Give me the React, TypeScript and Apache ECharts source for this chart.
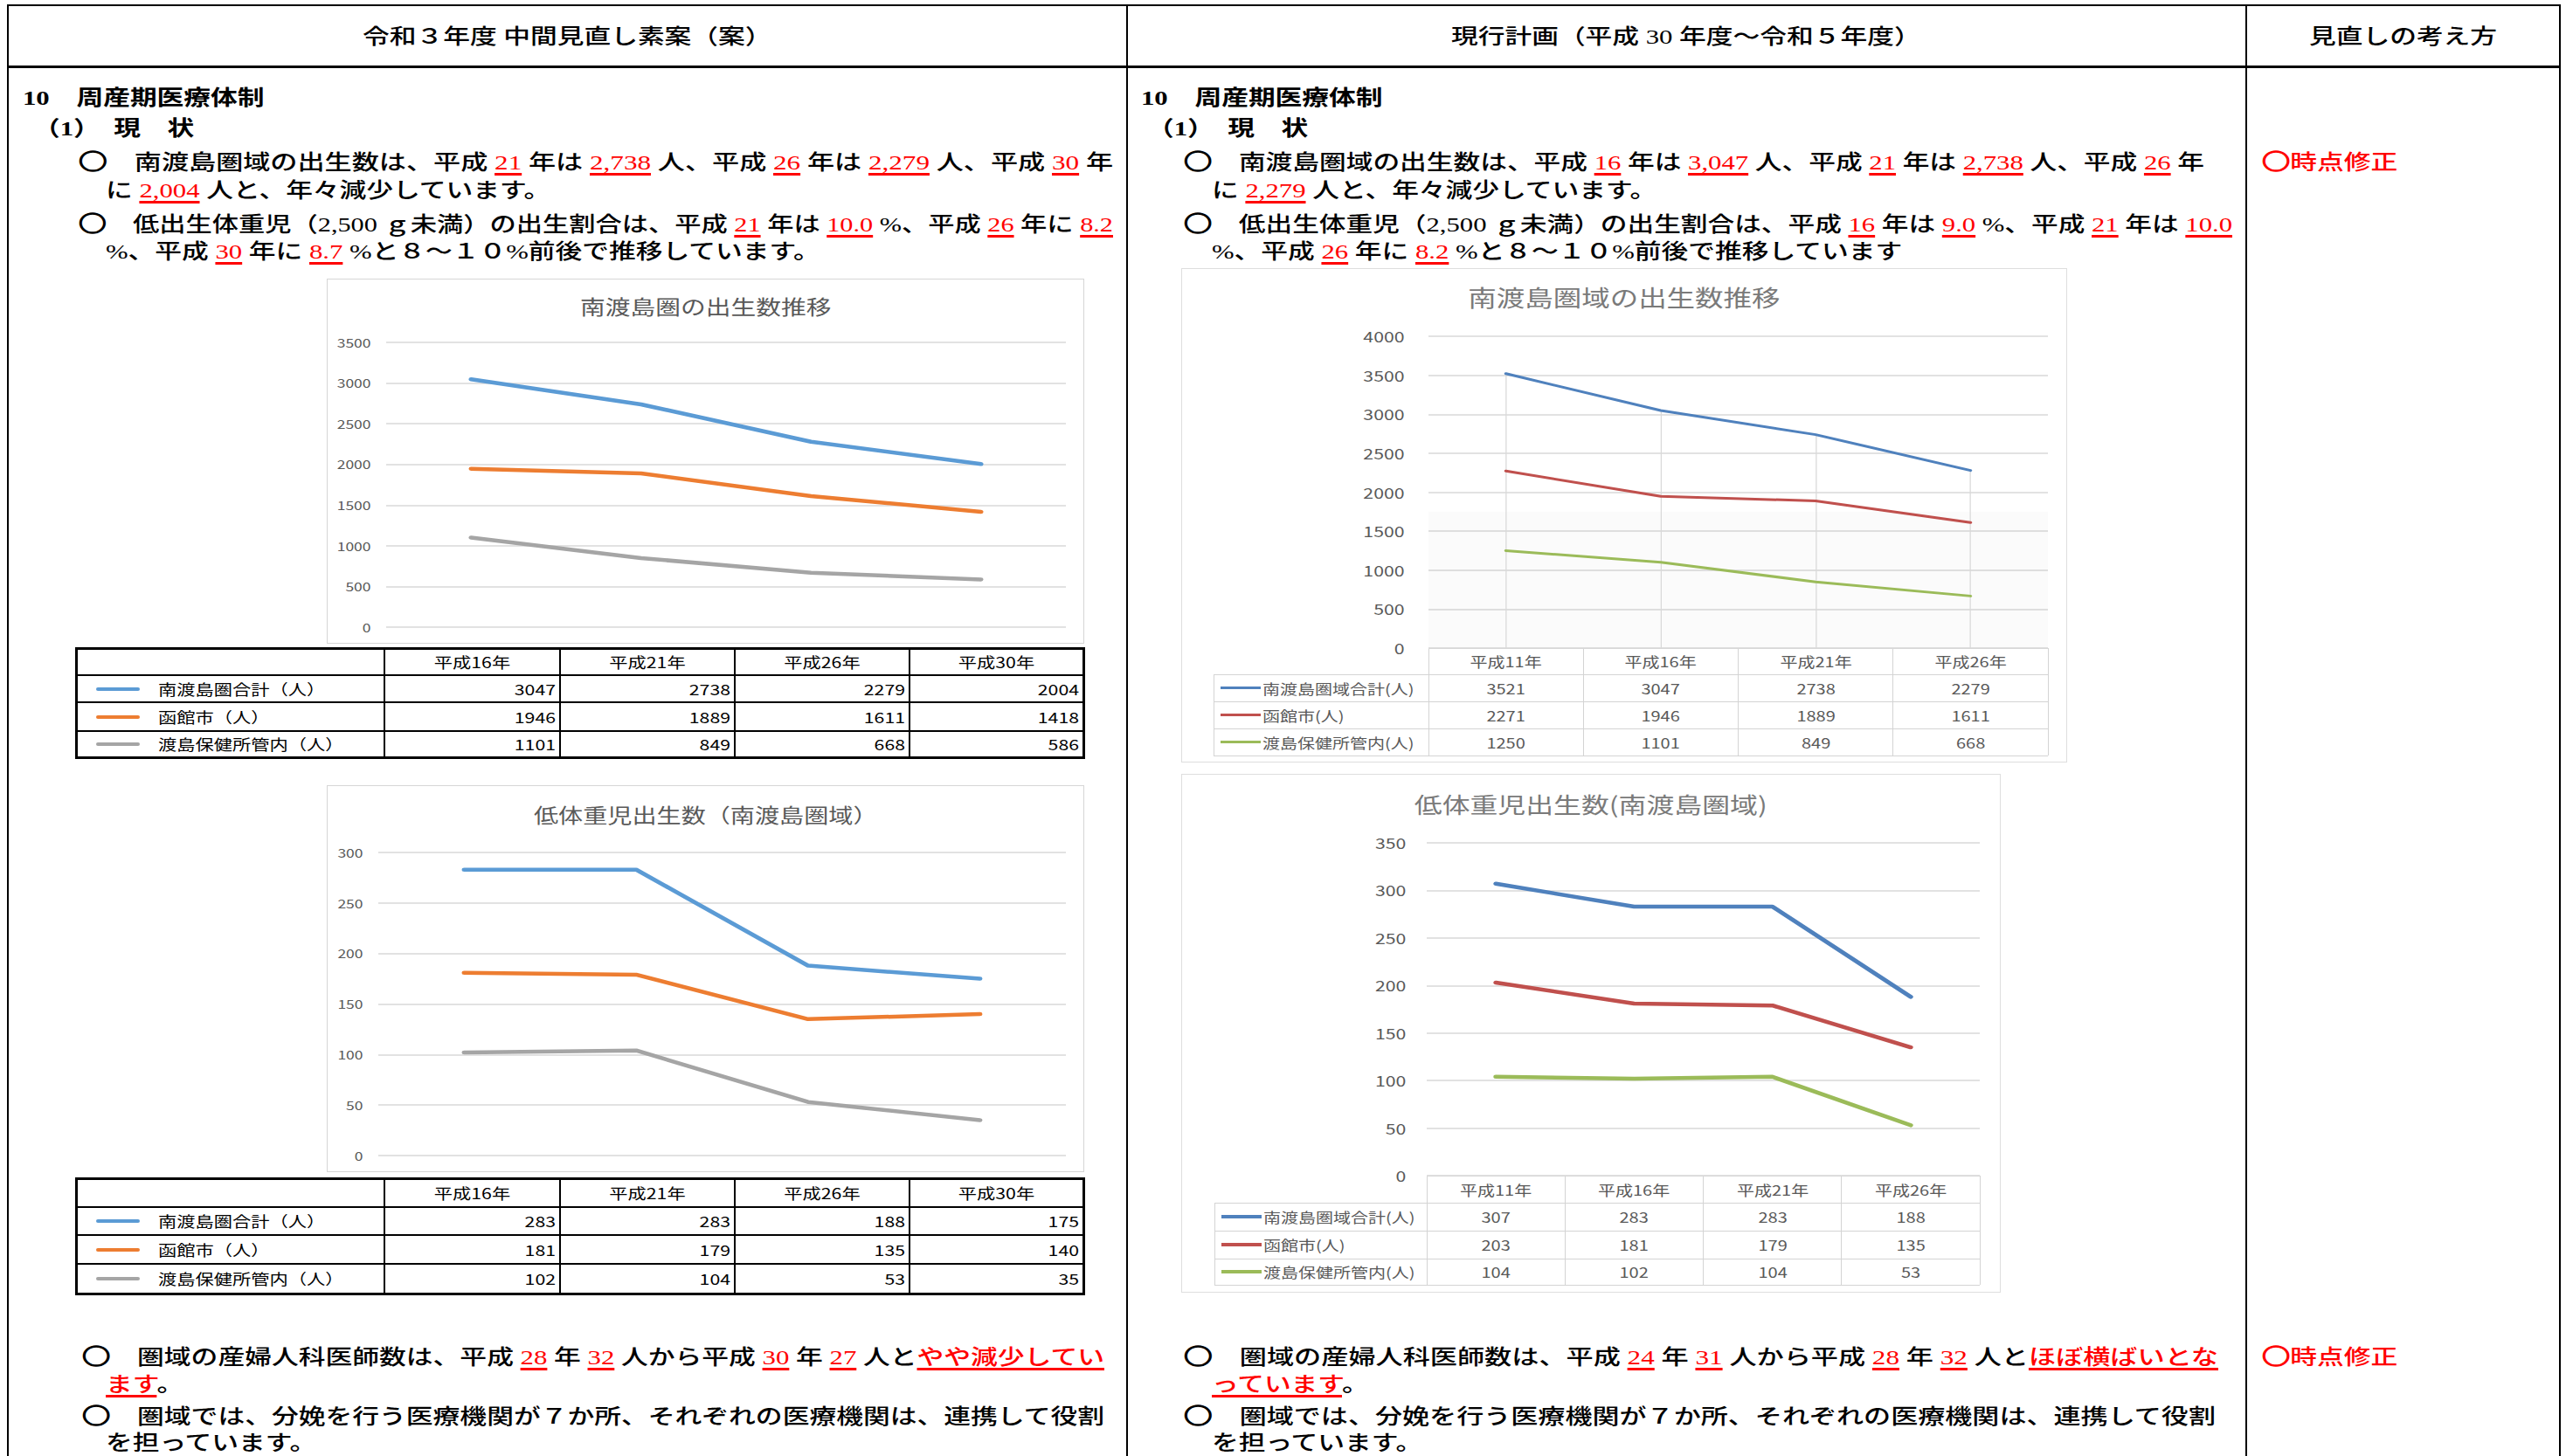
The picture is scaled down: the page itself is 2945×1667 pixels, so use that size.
import React, { useEffect, useLayoutEffect, useRef } from "react";
import * as echarts from "echarts";

// ---------------- data ----------------
const CAT_NEW = ["平成16年", "平成21年", "平成26年", "平成30年"];
const CAT_OLD = ["平成11年", "平成16年", "平成21年", "平成26年"];
const NAMES_NEW = ["南渡島圏合計（人）", "函館市（人）", "渡島保健所管内（人）"];
const NAMES_OLD = ["南渡島圏域合計(人)", "函館市(人)", "渡島保健所管内(人)"];

const BIRTHS_NEW_TOTAL = [3047, 2738, 2279, 2004];
const BIRTHS_NEW_HAKODATE = [1946, 1889, 1611, 1418];
const BIRTHS_NEW_OSHIMA = [1101, 849, 668, 586];

const LBW_NEW_TOTAL = [283, 283, 188, 175];
const LBW_NEW_HAKODATE = [181, 179, 135, 140];
const LBW_NEW_OSHIMA = [102, 104, 53, 35];

const BIRTHS_OLD_TOTAL = [3521, 3047, 2738, 2279];
const BIRTHS_OLD_HAKODATE = [2271, 1946, 1889, 1611];
const BIRTHS_OLD_OSHIMA = [1250, 1101, 849, 668];

const LBW_OLD_TOTAL = [307, 283, 283, 188];
const LBW_OLD_HAKODATE = [203, 181, 179, 135];
const LBW_OLD_OSHIMA = [104, 102, 104, 53];

const TICKS_BIRTHS_NEW = [0, 500, 1000, 1500, 2000, 2500, 3000, 3500];
const TICKS_LBW_NEW = [0, 50, 100, 150, 200, 250, 300];
const TICKS_BIRTHS_OLD = [0, 500, 1000, 1500, 2000, 2500, 3000, 3500, 4000];
const TICKS_LBW_OLD = [0, 50, 100, 150, 200, 250, 300, 350];

// ---------------- styles ----------------
const SD = 1.28; // horizontal stretch of document text
const SC = 1.25; // horizontal stretch of chart images
const JP = "'Noto Sans CJK JP', 'Noto Sans', sans-serif";
const DOC_FONT = "'Liberation Serif', 'Noto Sans CJK JP', serif";
const RED = "#ff0000";
const COLORS_NEW = ["#5b9bd5", "#ed7d31", "#a5a5a5"];
const COLORS_OLD = ["#4f81bd", "#c0504d", "#9bbb59"];

type Seg = string | { t: string; red?: boolean; u?: boolean; circ?: boolean };
const R = (t: string): Seg => ({ t, red: true, u: true });
const O: Seg = { t: "○", circ: true };

function TLine(props: any) {
  const { x, cx, y, w, segs, bold, size = 24, color = "#000" } = props;
  const ref = useRef<HTMLDivElement>(null);
  const lh = Math.round(size * 1.3);
  useLayoutEffect(() => {
    const el = ref.current;
    if (!el) return;
    el.style.transform = "none";
    const nat = el.getBoundingClientRect().width;
    const s = w ? w / nat : SD;
    el.style.transform = `scaleX(${s})`;
    if (cx !== undefined) el.style.left = `${cx - (nat * s) / 2}px`;
    else el.style.left = `${x}px`;
  }, []);
  return (
    <div
      ref={ref}
      style={{
        position: "absolute",
        left: x ?? cx,
        top: y - lh / 2,
        width: "max-content",
        fontSize: size,
        lineHeight: `${lh}px`,
        whiteSpace: "pre",
        fontFamily: DOC_FONT,
        fontWeight: bold ? 700 : 500,
        color,
        transformOrigin: "0 0",
      }}
    >
      {segs.map((s: Seg, i: number) =>
        typeof s === "string" ? (
          <span key={i}>{s}</span>
        ) : (
          <span
            key={i}
            style={{
              color: s.red ? RED : undefined,
              textDecoration: s.u ? "underline" : undefined,
              textDecorationColor: RED,
              textDecorationThickness: "3px",
              textUnderlineOffset: "4px",
              fontFamily: s.circ ? JP : undefined,
              fontWeight: s.circ ? 700 : undefined,
              fontSize: s.circ ? "1.05em" : undefined,
              WebkitTextStroke: s.circ ? "1.3px currentColor" : undefined,
            }}
          >
            {s.t}
          </span>
        )
      )}
    </div>
  );
}

function hl(key: string, x1: number, x2: number, y: number, th: number, color: string) {
  return <div key={key} style={{ position: "absolute", left: x1, top: y - th / 2, width: x2 - x1, height: th, background: color }} />;
}
function vl(key: string, x: number, y1: number, y2: number, th: number, color: string) {
  return <div key={key} style={{ position: "absolute", left: x - th / 2, top: y1, width: th, height: y2 - y1, background: color }} />;
}
function cell(key: string, x0: number, x1: number, yc: number, text: string, align: string, size: number, color: string) {
  const lh = Math.round(size * 1.4);
  const origin = align === "right" ? "100% 50%" : align === "center" ? "50% 50%" : "0 50%";
  return (
    <div
      key={key}
      style={{
        position: "absolute",
        left: x0,
        top: yc - lh / 2,
        width: x1 - x0,
        height: lh,
        lineHeight: `${lh}px`,
        fontSize: size,
        fontFamily: JP,
        color,
        textAlign: align as any,
        whiteSpace: "nowrap",
        transform: `scaleX(${SC})`,
        transformOrigin: origin,
      }}
    >
      {text}
    </div>
  );
}

// ---------------- tables ----------------
const LT_COLS = [87, 440, 641, 841, 1041, 1240];

function newTable(id: string, rows: number[], cats: string[], names: string[], data: number[][], colors: string[]) {
  const cols = LT_COLS;
  const els: any[] = [];
  rows.forEach((y, i) => els.push(hl(`${id}h${i}`, cols[0] - 1.5, cols[cols.length - 1] + 1.5, y, i === 0 || i === rows.length - 1 ? 3 : 2.5, "#000")));
  cols.forEach((x, i) => els.push(vl(`${id}v${i}`, x, rows[0] - 1.5, rows[rows.length - 1] + 1.5, i === 0 || i === cols.length - 1 ? 3 : 2, "#000")));
  cats.forEach((c, j) => els.push(cell(`${id}c${j}`, cols[j + 1], cols[j + 2], (rows[0] + rows[1]) / 2, c, "center", 17, "#000")));
  names.forEach((n, i) => {
    const yc = (rows[i + 1] + rows[i + 2]) / 2;
    els.push(<div key={`${id}l${i}`} style={{ position: "absolute", left: 110, top: yc - 2, width: 50, height: 4, borderRadius: 2, background: colors[i] }} />);
    els.push(cell(`${id}n${i}`, 181, cols[1], yc, n, "left", 17, "#000"));
    data[i].forEach((v, j) => els.push(cell(`${id}d${i}_${j}`, cols[j + 1], cols[j + 2] - 5, yc, String(v), "right", 17, "#000")));
  });
  return els;
}

function oldTable(id: string, legendL: number, gl: number, gr: number, rows: number[], cats: string[], names: string[], data: number[][], colors: string[]) {
  const n = cats.length;
  const cols = cats.map((_, j) => gl + ((gr - gl) * j) / n).concat([gr]);
  const els: any[] = [];
  const G = "#d4d4d4";
  els.push(hl(`${id}h0`, gl, gr, rows[0], 1, G));
  for (let i = 1; i < rows.length; i++) els.push(hl(`${id}h${i}`, legendL, gr, rows[i], 1, G));
  els.push(vl(`${id}vl`, legendL, rows[1], rows[rows.length - 1], 1, G));
  cols.forEach((x, i) => els.push(vl(`${id}v${i}`, x, rows[0], rows[rows.length - 1], 1, G)));
  cats.forEach((c, j) => els.push(cell(`${id}c${j}`, cols[j], cols[j + 1], (rows[0] + rows[1]) / 2, c, "center", 16, "#595959")));
  names.forEach((nm, i) => {
    const yc = (rows[i + 1] + rows[i + 2]) / 2;
    els.push(<div key={`${id}l${i}`} style={{ position: "absolute", left: legendL + 8, top: yc - 1.75, width: 46, height: 3.5, background: colors[i] }} />);
    els.push(cell(`${id}n${i}`, legendL + 56, gl, yc, nm, "left", 16, "#595959"));
    data[i].forEach((v, j) => els.push(cell(`${id}d${i}_${j}`, cols[j], cols[j + 1], yc, String(v), "center", 16, "#595959")));
  });
  return els;
}

// ---------------- charts ----------------
type ChartCfg = {
  key: string;
  frame: number[];
  grid: number[];
  title: string;
  titleSize: number;
  titleColor: string;
  titleY: number;
  ticks: number[];
  cats: string[];
  names: string[];
  data: number[][];
  colors: string[];
  lineWidth: number;
  labelSize: number;
  labelMargin: number;
  dropLines?: boolean;
  shadeTop?: number;
};

function buildOption(c: ChartCfg) {
  const [fl, ft] = c.frame;
  const [gl, gt, gr, gb] = c.grid;
  const ticks = c.ticks;
  const series: any[] = c.data.map((d, i) => ({
    type: "line",
    name: c.names[i],
    data: d,
    symbol: "none",
    showSymbol: false,
    silent: true,
    lineStyle: { color: c.colors[i], width: c.lineWidth, cap: "round", join: "round" },
    itemStyle: { color: c.colors[i] },
    z: 5,
  }));
  if (c.dropLines) {
    series.unshift({
      type: "line",
      data: c.data[0],
      symbol: "none",
      showSymbol: false,
      silent: true,
      lineStyle: { width: 0, opacity: 0 },
      z: 1,
      markLine: {
        silent: true,
        animation: false,
        symbol: ["none", "none"],
        label: { show: false },
        lineStyle: { color: "#d9d9d9", width: 1, type: "solid" },
        data: c.data[0].map((v, i) => [{ coord: [c.cats[i], v] }, { coord: [c.cats[i], 0] }]),
      },
      markArea: c.shadeTop
        ? { silent: true, animation: false, itemStyle: { color: "rgba(0,0,0,0.014)" }, data: [[{ yAxis: 0 }, { yAxis: c.shadeTop }]] }
        : undefined,
    });
  }
  return {
    animation: false,
    textStyle: { fontFamily: JP },
    title: {
      text: c.title,
      left: "center",
      top: c.titleY - ft - c.titleSize / 2,
      padding: 0,
      textStyle: { fontSize: c.titleSize, color: c.titleColor, fontWeight: "normal", fontFamily: JP },
    },
    grid: { left: (gl - fl) / SC, top: gt - ft, width: (gr - gl) / SC, height: gb - gt, containLabel: false },
    xAxis: {
      type: "category",
      data: c.cats,
      boundaryGap: true,
      axisLine: { show: false },
      axisTick: { show: false },
      axisLabel: { show: false },
      splitLine: { show: false },
    },
    yAxis: {
      type: "value",
      min: ticks[0],
      max: ticks[ticks.length - 1],
      interval: ticks[1] - ticks[0],
      axisLine: { show: false },
      axisTick: { show: false },
      axisLabel: {
        fontSize: c.labelSize,
        color: "#595959",
        margin: c.labelMargin,
        fontFamily: JP,
        formatter: (v: number) => String(v),
      },
      splitLine: { lineStyle: { color: "#d9d9d9", width: 1.5 } },
    },
    series,
  };
}

function Chart({ cfg }: { cfg: ChartCfg }) {
  const ref = useRef<HTMLDivElement>(null);
  useEffect(() => {
    const chart = echarts.init(ref.current as HTMLDivElement, null, { renderer: "svg" });
    chart.setOption(buildOption(cfg) as any);
    return () => chart.dispose();
  }, []);
  const [l, t, r, b] = cfg.frame;
  return (
    <div
      ref={ref}
      style={{ position: "absolute", left: l, top: t, width: (r - l) / SC, height: b - t, transform: `scaleX(${SC})`, transformOrigin: "0 0" }}
    />
  );
}

const CHARTS: ChartCfg[] = [
  {
    key: "births-new",
    frame: [374, 319, 1241, 737],
    grid: [442, 392, 1220, 718],
    title: "南渡島圏の出生数推移",
    titleSize: 23,
    titleColor: "#595959",
    titleY: 350,
    ticks: TICKS_BIRTHS_NEW,
    cats: CAT_NEW,
    names: NAMES_NEW,
    data: [BIRTHS_NEW_TOTAL, BIRTHS_NEW_HAKODATE, BIRTHS_NEW_OSHIMA],
    colors: COLORS_NEW,
    lineWidth: 4.5,
    labelSize: 14,
    labelMargin: 14,
  },
  {
    key: "lbw-new",
    frame: [374, 899, 1241, 1342],
    grid: [433, 976, 1220, 1323],
    title: "低体重児出生数（南渡島圏域）",
    titleSize: 22.5,
    titleColor: "#595959",
    titleY: 932,
    ticks: TICKS_LBW_NEW,
    cats: CAT_NEW,
    names: NAMES_NEW,
    data: [LBW_NEW_TOTAL, LBW_NEW_HAKODATE, LBW_NEW_OSHIMA],
    colors: COLORS_NEW,
    lineWidth: 4.5,
    labelSize: 14,
    labelMargin: 14,
  },
  {
    key: "births-old",
    frame: [1352, 307, 2366, 873],
    grid: [1635, 385, 2344, 742],
    title: "南渡島圏域の出生数推移",
    titleSize: 26,
    titleColor: "#7a7a7a",
    titleY: 340,
    ticks: TICKS_BIRTHS_OLD,
    cats: CAT_OLD,
    names: NAMES_OLD,
    data: [BIRTHS_OLD_TOTAL, BIRTHS_OLD_HAKODATE, BIRTHS_OLD_OSHIMA],
    colors: COLORS_OLD,
    lineWidth: 3,
    labelSize: 17,
    labelMargin: 22,
    dropLines: true,
    shadeTop: 1750,
  },
  {
    key: "lbw-old",
    frame: [1352, 886, 2290, 1480],
    grid: [1633, 965, 2266, 1346],
    title: "低体重児出生数(南渡島圏域)",
    titleSize: 25.5,
    titleColor: "#7a7a7a",
    titleY: 920,
    ticks: TICKS_LBW_OLD,
    cats: CAT_OLD,
    names: NAMES_OLD,
    data: [LBW_OLD_TOTAL, LBW_OLD_HAKODATE, LBW_OLD_OSHIMA],
    colors: COLORS_OLD,
    lineWidth: 4.5,
    labelSize: 17,
    labelMargin: 19,
  },
];

// ---------------- document text ----------------
const TEXT_LINES: any[] = [
  { cx: 649, y: 42, segs: ["令和３年度 中間見直し素案（案）"] },
  { cx: 1930, y: 42, segs: ["現行計画（平成 30 年度～令和５年度）"] },
  { cx: 2751, y: 42, segs: ["見直しの考え方"] },
  // left column
  { x: 26, y: 112, bold: true, segs: ["10　周産期医療体制"] },
  { x: 38, y: 147, bold: true, segs: ["（1）　現　状"] },
  { x: 90, y: 183, w: 1184, segs: [O, "　南渡島圏域の出生数は、平成 ", R("21"), " 年は ", R("2,738"), " 人、平成 ", R("26"), " 年は ", R("2,279"), " 人、平成 ", R("30"), " 年"] },
  { x: 121, y: 218, segs: ["に ", R("2,004"), " 人と、年々減少しています。"] },
  { x: 90, y: 254, w: 1184, segs: [O, "　低出生体重児（2,500 ｇ未満）の出生割合は、平成 ", R("21"), " 年は ", R("10.0"), " %、平成 ", R("26"), " 年に ", R("8.2")] },
  { x: 121, y: 288, segs: ["%、平成 ", R("30"), " 年に ", R("8.7"), " %と８～１０%前後で推移しています。"] },
  { x: 94, y: 1551, w: 1170, segs: [O, "　圏域の産婦人科医師数は、平成 ", R("28"), " 年 ", R("32"), " 人から平成 ", R("30"), " 年 ", R("27"), " 人と", R("やや減少してい")] },
  { x: 121, y: 1585, segs: [R("ます"), "。"] },
  { x: 94, y: 1619, w: 1170, segs: [O, "　圏域では、分娩を行う医療機関が７か所、それぞれの医療機関は、連携して役割"] },
  { x: 121, y: 1652, segs: ["を担っています。"] },
  // middle column
  { x: 1306, y: 112, bold: true, segs: ["10　周産期医療体制"] },
  { x: 1313, y: 147, bold: true, segs: ["（1）　現　状"] },
  { x: 1355, y: 183, w: 1168, segs: [O, "　南渡島圏域の出生数は、平成 ", R("16"), " 年は ", R("3,047"), " 人、平成 ", R("21"), " 年は ", R("2,738"), " 人、平成 ", R("26"), " 年"] },
  { x: 1387, y: 218, segs: ["に ", R("2,279"), " 人と、年々減少しています。"] },
  { x: 1355, y: 254, w: 1200, segs: [O, "　低出生体重児（2,500 ｇ未満）の出生割合は、平成 ", R("16"), " 年は ", R("9.0"), " %、平成 ", R("21"), " 年は ", R("10.0")] },
  { x: 1387, y: 288, segs: ["%、平成 ", R("26"), " 年に ", R("8.2"), " %と８～１０%前後で推移しています"] },
  { x: 1355, y: 1551, w: 1184, segs: [O, "　圏域の産婦人科医師数は、平成 ", R("24"), " 年 ", R("31"), " 人から平成 ", R("28"), " 年 ", R("32"), " 人と", R("ほぼ横ばいとな")] },
  { x: 1387, y: 1585, segs: [R("っています"), "。"] },
  { x: 1355, y: 1619, w: 1181, segs: [O, "　圏域では、分娩を行う医療機関が７か所、それぞれの医療機関は、連携して役割"] },
  { x: 1387, y: 1652, segs: ["を担っています。"] },
  // right column
  { x: 2589, y: 183, color: RED, segs: [{ t: "○", circ: true }, "時点修正"] },
  { x: 2589, y: 1551, color: RED, segs: [{ t: "○", circ: true }, "時点修正"] },
];

export default function App() {
  const frames = CHARTS.map((c) => {
    const [l, t, r, b] = c.frame;
    const isNew = c.key.endsWith("new");
    return (
      <div
        key={`f-${c.key}`}
        style={{
          position: "absolute",
          left: l,
          top: t,
          width: r - l,
          height: b - t,
          boxSizing: "border-box",
          border: `${isNew ? 1.5 : 1}px solid ${isNew ? "#d6d6d6" : "#dedede"}`,
          background: "#fff",
        }}
      />
    );
  });

  const pageLines = [
    hl("top", 8, 2931, 6, 2, "#000"),
    hl("hdr", 8, 2931, 76, 3, "#000"),
    vl("v0", 9, 5, 1667, 2, "#000"),
    vl("v1", 1290, 5, 1667, 2, "#000"),
    vl("v2", 2571, 5, 1667, 2, "#000"),
    vl("v3", 2930, 5, 1667, 2, "#000"),
  ];

  return (
    <div style={{ position: "absolute", left: 0, top: 0, width: 2945, height: 1667, background: "#fff", overflow: "hidden" }}>
      {pageLines}
      {frames}
      {newTable("t1", [742, 773, 804, 837, 867], CAT_NEW, NAMES_NEW, [BIRTHS_NEW_TOTAL, BIRTHS_NEW_HAKODATE, BIRTHS_NEW_OSHIMA], COLORS_NEW)}
      {newTable("t2", [1349, 1382, 1414, 1447, 1481], CAT_NEW, NAMES_NEW, [LBW_NEW_TOTAL, LBW_NEW_HAKODATE, LBW_NEW_OSHIMA], COLORS_NEW)}
      {oldTable("t3", 1389, 1635, 2344, [742, 772, 803, 834, 865], CAT_OLD, NAMES_OLD, [BIRTHS_OLD_TOTAL, BIRTHS_OLD_HAKODATE, BIRTHS_OLD_OSHIMA], COLORS_OLD)}
      {oldTable("t4", 1390, 1633, 2266, [1346, 1377, 1409, 1441, 1471], CAT_OLD, NAMES_OLD, [LBW_OLD_TOTAL, LBW_OLD_HAKODATE, LBW_OLD_OSHIMA], COLORS_OLD)}
      {CHARTS.map((c) => (
        <Chart key={c.key} cfg={c} />
      ))}
      {TEXT_LINES.map((l, i) => (
        <TLine key={`tl${i}`} {...l} />
      ))}
    </div>
  );
}
